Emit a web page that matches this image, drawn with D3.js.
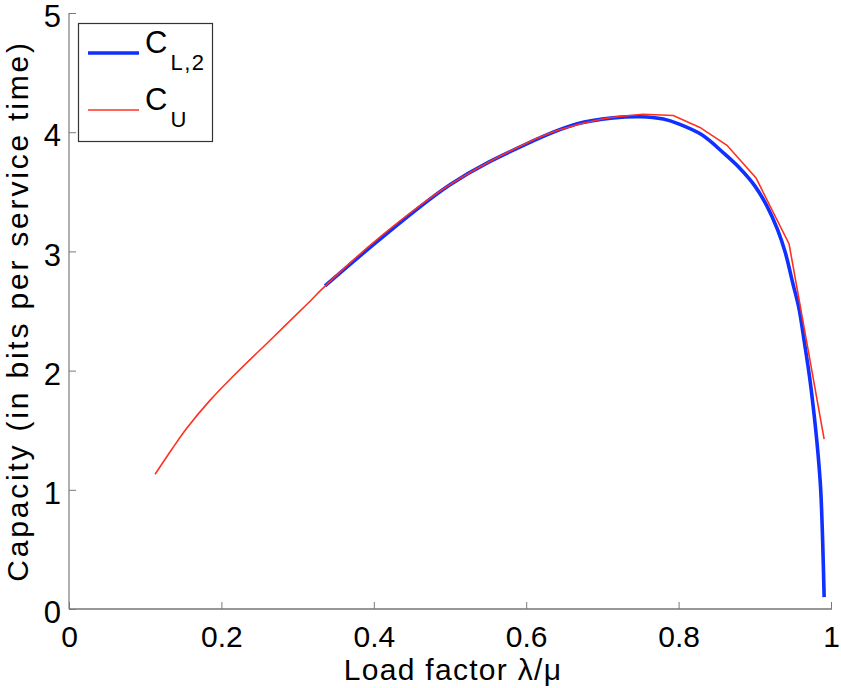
<!DOCTYPE html>
<html>
<head>
<meta charset="utf-8">
<script src="https://cdn.jsdelivr.net/npm/d3@7"></script>
<style>
  html, body { margin: 0; padding: 0; background: #fff; }
  svg { display: block; font-family: "Liberation Sans", Arial, Helvetica, sans-serif; }
</style>
</head>
<body>
<svg id="chart" width="841" height="688"></svg>
<script>
// ---- data ----
const lowerX = [0.336, 0.5, 0.6, 0.667, 0.714, 0.75, 0.78, 0.8, 0.83, 0.86, 0.88, 0.9, 0.916, 0.93, 0.94, 0.95, 0.958, 0.965, 0.972, 0.978, 0.983, 0.9865, 0.989, 0.991];
const lowerY = [2.71, 3.56, 3.90, 4.07, 4.12, 4.13, 4.11, 4.07, 3.98, 3.82, 3.70, 3.55, 3.38, 3.18, 2.99, 2.73, 2.52, 2.24, 1.94, 1.62, 1.30, 1.00, 0.58, 0.10];
const upperX = [0.113, 0.135, 0.155, 0.185, 0.215, 0.268, 0.316, 0.333, 0.408, 0.5, 0.601, 0.644, 0.7, 0.753, 0.793, 0.828, 0.8635, 0.9016, 0.945, 0.991];
const upperY = [1.13, 1.34, 1.52, 1.75, 1.95, 2.28, 2.58, 2.69, 3.12, 3.56, 3.91, 4.02, 4.11, 4.15, 4.14, 4.04, 3.89, 3.616, 3.062, 1.426];
const xTicks = [0, 0.2, 0.4, 0.6, 0.8, 1];
const xTickLabels = ["0", "0.2", "0.4", "0.6", "0.8", "1"];
const yTicks = [0, 1, 2, 3, 4, 5];
const yTickLabels = ["0", "1", "2", "3", "4", "5"];
const xLabel = "Load factor λ/μ";
const yLabel = "Capacity (in bits per service time)";

(function () {
const svg = d3.select("#chart");
const mLeft = 69, mRight = 831, mTop = 13, mBottom = 609;
const x = d3.scaleLinear().domain([0, 1]).range([mLeft, mRight]);
const y = d3.scaleLinear().domain([0, 5]).range([mBottom, mTop]);

const axisColor = "#7a7a7a";
const textColor = "#000";

// curves
const smooth = d3.line().x(d => x(d[0])).y(d => y(d[1])).curve(d3.curveCatmullRom.alpha(0.5));
const straight = d3.line().x(d => x(d[0])).y(d => y(d[1]));
const upper = upperX.map((v, i) => [v, upperY[i]]);
const lower = lowerX.map((v, i) => [v, lowerY[i]]);
const blue = "#0f30ff", red = "#ff3020";

svg.append("path").attr("d", smooth(lower)).attr("fill", "none")
  .attr("stroke", blue).attr("stroke-width", 3.6).attr("stroke-linejoin", "round");
// red: smooth on the left, sampled segments on the right (as in the reference)
const splitAt = 0.753;
svg.append("path")
  .attr("d", smooth(upper.filter(d => d[0] <= splitAt)) + straight(upper.filter(d => d[0] >= splitAt)))
  .attr("fill", "none").attr("stroke", red).attr("stroke-width", 1.6).attr("stroke-linejoin", "miter");

// axes
const xAxis = d3.axisBottom(x).tickValues(xTicks).tickFormat((d, i) => xTickLabels[i]).tickSize(-7).tickPadding(16);
const gx = svg.append("g").attr("transform", `translate(0,${mBottom})`).call(xAxis);
gx.select(".domain").attr("stroke", "#333").attr("stroke-width", 1.2).attr("d", `M${mLeft},0H${mRight + 1}`);
gx.selectAll(".tick line").attr("stroke", axisColor);
gx.selectAll(".tick text").attr("font-size", 30).attr("fill", textColor)
  .attr("font-family", "Liberation Sans, Arial, sans-serif").attr("dy", "0.72em");

const yAxis = d3.axisLeft(y).tickValues(yTicks).tickFormat((d, i) => yTickLabels[i]).tickSize(-7).tickPadding(8);
const gy = svg.append("g").attr("transform", `translate(${mLeft},0)`).call(yAxis);
gy.select(".domain").attr("stroke", axisColor).attr("stroke-width", 1.2).attr("d", `M0,${mBottom}V${mTop}`);
gy.selectAll(".tick line").attr("stroke", axisColor);
gy.selectAll(".tick text").attr("font-size", 31).attr("fill", textColor)
  .attr("font-family", "Liberation Sans, Arial, sans-serif").attr("dy", "0.44em");

// axis labels
svg.append("text").attr("x", (mLeft + mRight) / 2 + 3).attr("y", 680)
  .attr("text-anchor", "middle").attr("font-size", 30).attr("letter-spacing", 1.3)
  .attr("fill", textColor).text(xLabel);
svg.append("text").attr("transform", `translate(28,${(mTop + mBottom) / 2}) rotate(-90)`)
  .attr("text-anchor", "middle").attr("font-size", 30).attr("letter-spacing", 2.8)
  .attr("fill", textColor).text(yLabel);

// legend
const lg = svg.append("g");
lg.append("rect").attr("x", 78.5).attr("y", 23.5).attr("width", 134).attr("height", 118)
  .attr("fill", "#fff").attr("stroke", "#333").attr("stroke-width", 1.2);
const legendItems = [
  { main: "C", sub: "L,2", color: blue, width: 3.6, yl: 53 },
  { main: "C", sub: "U", color: red, width: 1.6, yl: 110 }
];
legendItems.forEach(it => {
  lg.append("line").attr("x1", 88).attr("x2", 139).attr("y1", it.yl).attr("y2", it.yl)
    .attr("stroke", it.color).attr("stroke-width", it.width);
  const t = lg.append("text").attr("x", 145).attr("y", it.yl).attr("font-size", 31).attr("fill", textColor);
  t.append("tspan").text(it.main);
  t.append("tspan").attr("font-size", 22).attr("letter-spacing", 1.5).attr("dy", 17).attr("dx", 3).text(it.sub);
});
})();
</script>
</body>
</html>
